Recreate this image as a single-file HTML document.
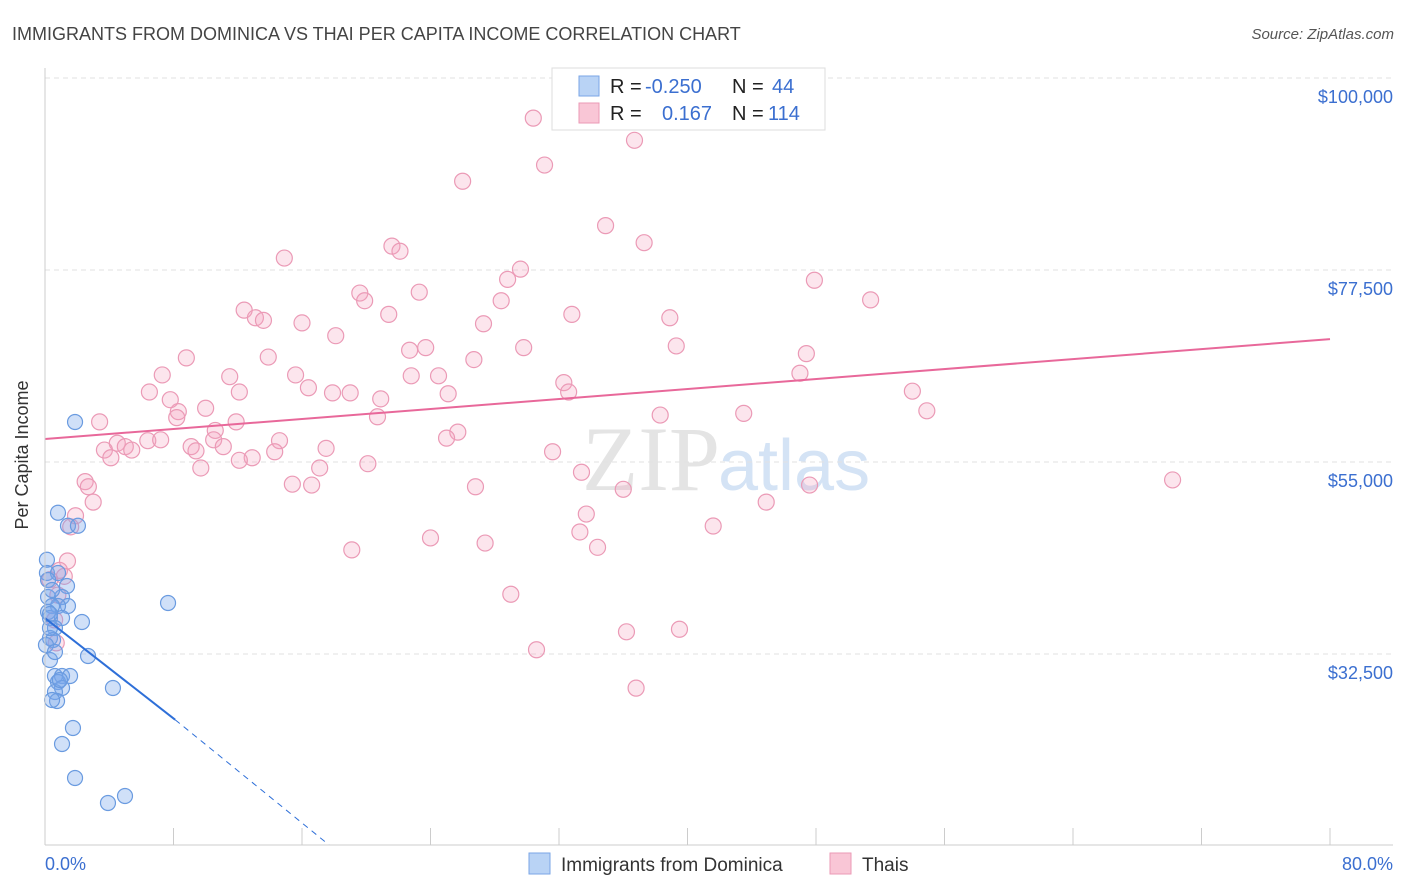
<!DOCTYPE html>
<html><head><meta charset="utf-8"><style>
body{margin:0;background:#fff;font-family:"Liberation Sans",sans-serif;}
#wrap{position:relative;width:1406px;height:892px;overflow:hidden;}
</style></head><body>
<div id="wrap">
<svg id="svg" width="1406" height="892" xmlns="http://www.w3.org/2000/svg">
<text x="12" y="40" font-size="18" fill="#444">IMMIGRANTS FROM DOMINICA VS THAI PER CAPITA INCOME CORRELATION CHART</text>
<text x="1394" y="39" font-size="15" fill="#555" font-style="italic" text-anchor="end">Source: ZipAtlas.com</text>
<text x="720" y="490" font-size="92" fill="#e4e4e4" text-anchor="end" font-family="Liberation Serif">ZIP</text>
<text x="718" y="490" font-size="72" fill="#d4e3f5">atlas</text>
<g id="grid"></g><g id="pts"></g><g id="lines"></g>
<line x1="45" y1="68" x2="45" y2="845" stroke="#ccc"/>
<line x1="45" y1="845" x2="1393" y2="845" stroke="#ccc"/>
<text x="28" y="455" font-size="18" fill="#333" text-anchor="middle" transform="rotate(-90 28 455)">Per Capita Income</text>
<text x="45" y="870" font-size="18" fill="#3b6fd0">0.0%</text>
<text x="1393" y="870" font-size="18" fill="#3b6fd0" text-anchor="end">80.0%</text>
<g>
<rect x="552" y="68" width="273" height="62" fill="#fff" stroke="#ddd"/>
<rect x="579" y="76" width="20" height="20" fill="#b9d3f5" stroke="#7aa6e6"/>
<rect x="579" y="103" width="20" height="20" fill="#f9c6d6" stroke="#eb9ab6"/>
<text x="610" y="93" font-size="20" fill="#222">R =</text><text x="645" y="93" font-size="20" fill="#3b6fd0">-0.250</text>
<text x="732" y="93" font-size="20" fill="#222">N =</text><text x="772" y="93" font-size="20" fill="#3b6fd0">44</text>
<text x="610" y="120" font-size="20" fill="#222">R =</text><text x="662" y="120" font-size="20" fill="#3b6fd0">0.167</text>
<text x="732" y="120" font-size="20" fill="#222">N =</text><text x="768" y="120" font-size="20" fill="#3b6fd0">114</text>
</g>
<g>
<rect x="529" y="853" width="21" height="21" fill="#b9d3f5" stroke="#7aa6e6"/>
<text x="561" y="871" font-size="19" fill="#333">Immigrants from Dominica</text>
<rect x="830" y="853" width="21" height="21" fill="#f9c6d6" stroke="#eb9ab6"/>
<text x="862" y="871" font-size="19" fill="#333">Thais</text>
</g>
</svg>
</div>
<script>
const yTicks=[32500,55000,77500,100000];
const yTickLabels=["$32,500","$55,000","$77,500","$100,000"];
const xTicks=[0,8,16,24,32,40,48,56,64,72,80];
const blueX=[1.87,0.81,1.43,2.05,0.12,0.12,0.81,1.37,0.19,1.06,1.43,0.81,0.44,2.30,0.31,1.06,0.62,0.31,0.50,2.68,0.31,0.62,1.06,1.56,0.81,1.06,0.62,0.75,4.23,7.66,1.74,1.06,1.87,3.92,4.98,0.19,0.44,0.19,0.31,0.06,0.62,0.93,0.44,0.31];
const blueY=[59687,49055,47531,47531,43547,41990,41990,40468,39178,39178,38124,38124,38124,36249,36718,36718,35546,34374,34139,32264,31795,29920,29920,29920,29217,28514,28045,26990,28514,38475,23826,21951,17966,15037,15857,41171,39999,37421,35546,33553,32733,29452,27108,37187];
const pinkX=[30.4,36.7,31.1,26.0,34.9,37.3,21.6,22.1,14.9,29.6,28.8,47.9,19.6,23.3,19.9,28.4,51.4,12.4,13.1,13.6,21.4,32.8,16.0,27.3,38.9,18.1,39.3,29.8,22.7,23.7,47.4,8.8,13.9,26.7,7.3,11.5,15.6,22.8,24.5,47.0,32.3,16.4,6.5,12.1,17.9,19.0,32.6,20.9,25.1,54.0,10.0,8.3,8.2,11.9,20.7,38.3,43.5,54.9,3.4,10.6,25.7,25.0,10.5,14.6,4.5,5.0,3.7,6.4,7.2,9.1,9.4,11.1,17.5,31.6,12.9,14.3,4.1,9.7,17.1,20.1,33.4,70.2,2.5,2.7,15.4,16.6,26.8,36.0,47.6,3.0,44.9,33.7,1.9,41.6,33.3,1.6,1.4,24.0,27.4,34.4,19.1,1.2,0.3,29.0,36.2,39.5,30.6,36.8,0.7,0.6,0.8,0.9,5.4,12.1,7.8];
const pinkY=[95.3,92.7,89.8,87.9,82.7,80.7,80.3,79.7,78.9,77.6,76.4,76.3,74.8,74.9,73.9,73.9,74.0,72.8,71.9,71.6,72.3,72.3,71.3,71.2,71.9,69.8,68.6,68.4,68.1,68.4,67.7,67.2,67.3,67.0,65.2,65.0,65.2,65.1,65.1,65.4,64.3,63.7,63.2,63.2,63.1,63.1,63.2,62.4,63.0,63.3,61.3,60.9,60.2,59.7,60.3,60.5,60.7,61.0,59.7,58.7,58.5,57.8,57.6,57.5,57.2,56.8,56.4,57.5,57.6,56.8,56.3,56.8,56.6,56.2,55.5,56.2,55.5,54.3,54.3,54.8,53.8,52.9,52.7,52.1,52.4,52.3,52.1,51.8,52.3,50.3,50.3,48.9,48.7,47.5,46.8,47.4,43.4,46.1,45.5,45.0,44.7,41.6,41.2,39.5,35.1,35.4,33.0,28.5,33.8,36.5,39.4,42.3,56.4,55.2,62.3].map(v=>v*1000);
const blueLine=[[0,36700],[8.1,24800],[17.7,10100]];
const pinkLine=[[0,57700],[80,69400]];
const X=v=>45+v/80*1285;
const Y=v=>78+(100000-v)/22500*192;
const NS="http://www.w3.org/2000/svg";
function mk(t,a,p){const e=document.createElementNS(NS,t);for(const k in a)e.setAttribute(k,a[k]);p.appendChild(e);return e;}
const grid=document.getElementById('grid'),pts=document.getElementById('pts'),lines=document.getElementById('lines');
yTicks.forEach((v,i)=>{
 const l=mk('line',{x1:45,x2:1393,y1:Y(v),y2:Y(v),stroke:'#e2e2e2','stroke-dasharray':'5,4'},grid);
 
 
 const t=mk('text',{x:1393,y:Y(v)+25,'font-size':18,fill:'#3b6fd0','text-anchor':'end'},grid);
 t.textContent=yTickLabels[i];
 
 
});
xTicks.forEach(v=>{
 const l=mk('line',{x1:X(v),x2:X(v),y1:828,y2:845,stroke:'#ccc'},grid);
 
 
});
pinkX.forEach((x,i)=>{
 const c=mk('circle',{cx:X(x),cy:Y(pinkY[i]),r:8,fill:'rgba(244,160,190,0.28)',stroke:'#eb9ab6','stroke-width':1.2},pts);
 
 
});
blueX.forEach((x,i)=>{
 const c=mk('circle',{cx:X(x),cy:Y(blueY[i]),r:7.5,fill:'rgba(120,165,235,0.35)',stroke:'#6a9be0','stroke-width':1.2},pts);
 
 
});
const pl=mk('line',{x1:X(pinkLine[0][0]),y1:Y(pinkLine[0][1]),x2:X(pinkLine[1][0]),y2:Y(pinkLine[1][1]),stroke:'#e8689a','stroke-width':2},lines);


const bl=mk('line',{x1:X(blueLine[0][0]),y1:Y(blueLine[0][1]),x2:X(blueLine[1][0]),y2:Y(blueLine[1][1]),stroke:'#2e6fd8','stroke-width':2},lines);


const bd=mk('line',{x1:X(blueLine[1][0]),y1:Y(blueLine[1][1]),x2:X(blueLine[2][0]),y2:Y(blueLine[2][1]),stroke:'#2e6fd8','stroke-width':1,'stroke-dasharray':'6,5'},lines);


</script>
</body></html>
